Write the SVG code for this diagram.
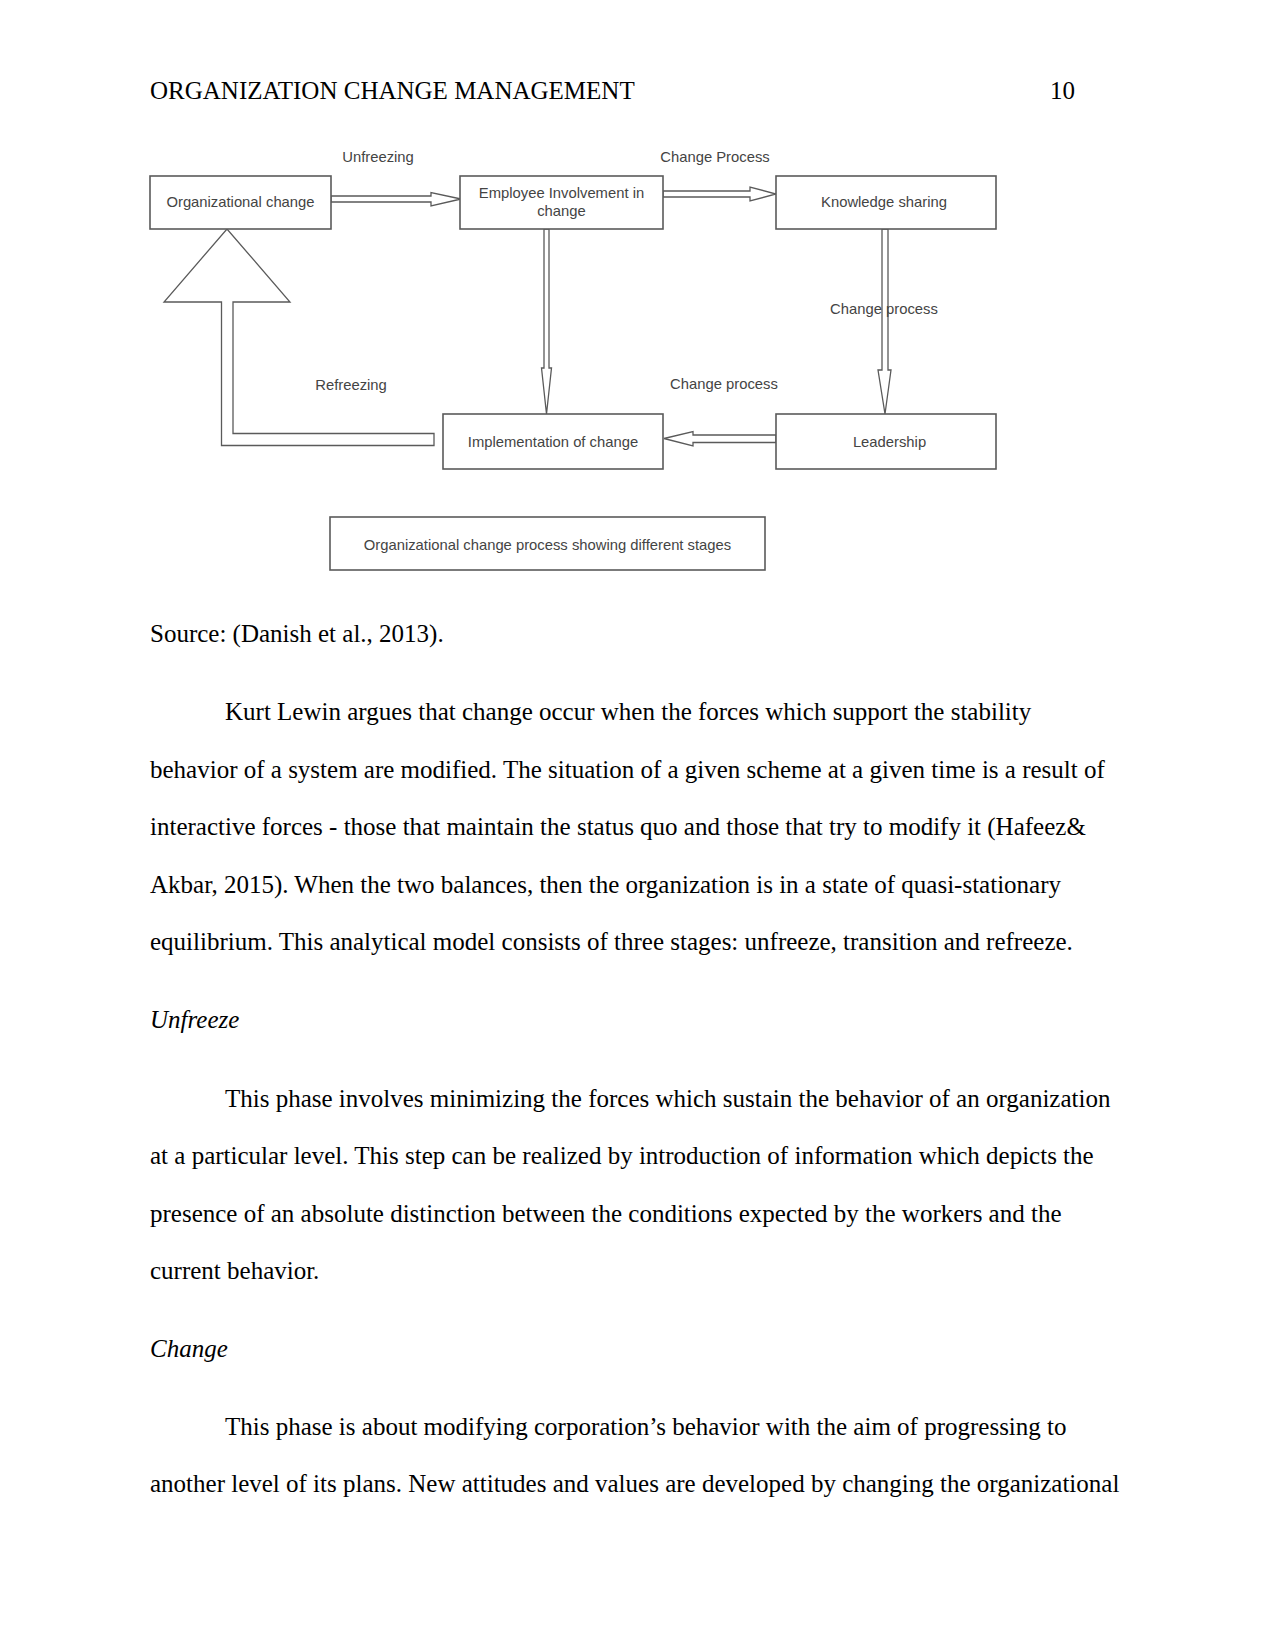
<svg xmlns="http://www.w3.org/2000/svg" width="1275" height="1650" viewBox="0 0 1275 1650">
<style>
.body{font-family:"Liberation Sans",Arial,sans-serif}
.body{font-family:"Liberation Serif","Times New Roman",serif;font-size:25px;fill:#000}
.it{font-style:italic}
.box{fill:#fff;stroke:#5a5a5a;stroke-width:1.6}
.arr{fill:#fff;stroke:#5a5a5a;stroke-width:1.3;stroke-linejoin:miter}
.lbl{font-family:"Liberation Sans",Arial,sans-serif;font-size:14.8px;fill:#444;text-anchor:middle}
</style>
<rect width="1275" height="1650" fill="#fff"/>
<g id="header">
<text class="body" x="150" y="99">ORGANIZATION CHANGE MANAGEMENT</text>
<text class="body" x="1075" y="99" text-anchor="end">10</text>
</g>
<g id="connectors">
<polygon class="arr" points="331,196 431,196 431,192.5 461,199 431,206 431,202 331,202"/>
<polygon class="arr" points="663,191 750,191 750,187 776,194 750,201 750,197 663,197"/>
<polygon class="arr" points="544,229 549,229 549,368 551.5,368 546.5,414 541.5,368 544,368"/>
<polygon class="arr" points="882,229 888,229 888,370 891,370 885,414 878,370 882,370"/>
<polygon class="arr" points="776,435 693,435 693,431.5 664,438.5 693,446 693,442.5 776,442.5"/>
<polygon class="arr" points="434,433.5 233,433.5 233,302 290,302 227,229 164,302 221.5,302 221.5,445.5 434,445.5"/>
</g>
<g id="labels">
<text class="lbl" x="378" y="162">Unfreezing</text>
<text class="lbl" x="715" y="162">Change Process</text>
<text class="lbl" x="884" y="314">Change process</text>
<text class="lbl" x="351" y="390">Refreezing</text>
<text class="lbl" x="724" y="389">Change process</text>
</g>
<g id="node-org-change">
<rect class="box" x="150" y="176" width="181" height="53"/>
<text class="lbl" x="240.5" y="207">Organizational change</text>
</g>
<g id="node-employee">
<rect class="box" x="460" y="176" width="203" height="53"/>
<text class="lbl" x="561.5" y="197.5">Employee Involvement in</text>
<text class="lbl" x="561.5" y="216">change</text>
</g>
<g id="node-knowledge">
<rect class="box" x="776" y="176" width="220" height="53"/>
<text class="lbl" x="884" y="207">Knowledge sharing</text>
</g>
<g id="node-implementation">
<rect class="box" x="443" y="414" width="220" height="55"/>
<text class="lbl" x="553" y="447">Implementation of change</text>
</g>
<g id="node-leadership">
<rect class="box" x="776" y="414" width="220" height="55"/>
<text class="lbl" x="889.5" y="447">Leadership</text>
</g>
<g id="node-caption">
<rect class="box" x="330" y="517" width="435" height="53"/>
<text class="lbl" x="547.5" y="550">Organizational change process showing different stages</text>
</g>
<g id="body-text">
<text class="body" x="150" y="642">Source: (Danish et al., 2013).</text>
<text class="body" x="225" y="720">Kurt Lewin argues that change occur when the forces which support the stability</text>
<text class="body" x="150" y="777.5">behavior of a system are modified. The situation of a given scheme at a given time is a result of</text>
<text class="body" x="150" y="835">interactive forces - those that maintain the status quo and those that try to modify it (Hafeez&amp;</text>
<text class="body" x="150" y="892.5">Akbar, 2015). When the two balances, then the organization is in a state of quasi-stationary</text>
<text class="body" x="150" y="950">equilibrium. This analytical model consists of three stages: unfreeze, transition and refreeze.</text>
<text class="body it" x="150" y="1028">Unfreeze</text>
<text class="body" x="225" y="1107">This phase involves minimizing the forces which sustain the behavior of an organization</text>
<text class="body" x="150" y="1164">at a particular level. This step can be realized by introduction of information which depicts the</text>
<text class="body" x="150" y="1221.5">presence of an absolute distinction between the conditions expected by the workers and the</text>
<text class="body" x="150" y="1279">current behavior.</text>
<text class="body it" x="150" y="1357">Change</text>
<text class="body" x="225" y="1435">This phase is about modifying corporation’s behavior with the aim of progressing to</text>
<text class="body" x="150" y="1492">another level of its plans. New attitudes and values are developed by changing the organizational</text>
</g>
</svg>
